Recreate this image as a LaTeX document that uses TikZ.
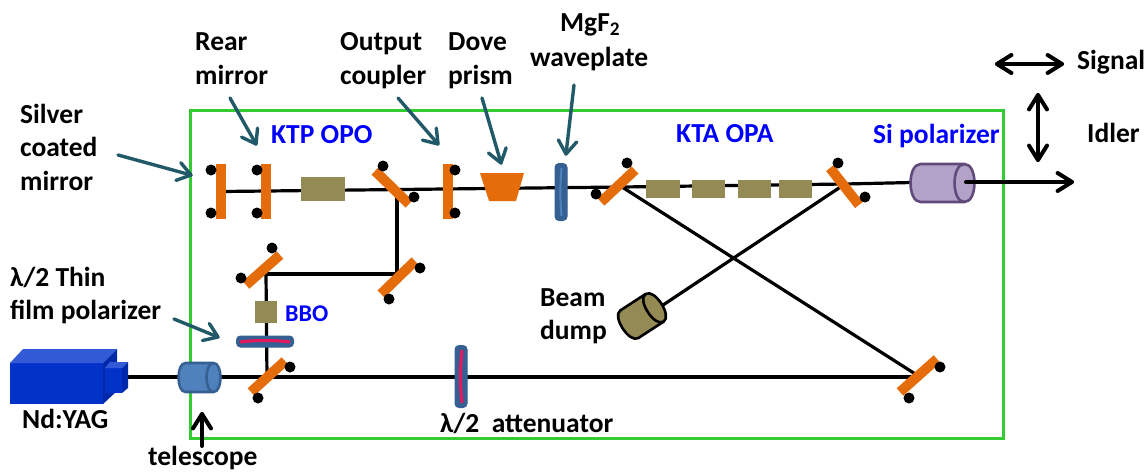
\documentclass[tikz,border=0pt]{standalone}
\usepackage{fontspec}
\setmainfont{Carlito}
\usetikzlibrary{calc}
\definecolor{frame}{HTML}{33CC33}
\definecolor{mirrorc}{HTML}{E46C0A}
\definecolor{khaki}{HTML}{948A54}
\definecolor{teal}{HTML}{215968}
\definecolor{lensf}{HTML}{4F81BD}
\definecolor{lensd}{HTML}{376092}
\definecolor{purf}{HTML}{B3A2C7}
\definecolor{purd}{HTML}{604A7B}
\definecolor{mag}{HTML}{E6175C}
\definecolor{lasf}{RGB}{3,50,200}
\definecolor{last}{RGB}{50,90,215}
\definecolor{lass}{RGB}{0,40,170}
\tikzset{
  x=1pt,y=-1pt,
  lbl/.style={font=\fontsize{27.5}{27.5}\selectfont\bfseries,anchor=base west,inner sep=0pt,text=black},
  blbl/.style={lbl,text=blue},
  beam/.style={draw=black,line width=3.2pt},
  mir/.style={draw=mirrorc,line width=10pt},
  post/.style={circle,fill=black,minimum size=11pt,inner sep=0pt},
  crystal/.style={fill=khaki,inner sep=0pt},
  callout/.style={draw=teal,line width=3.4pt,line cap=round,line join=round},
  bigarrow/.style={draw=black,line width=4pt,line cap=round,line join=round},
  plate/.style={draw=lensd,fill=lensd,line width=1pt,rounded corners=4pt,inner sep=0pt},
}
% open arrow head at #2 for a shaft coming from #1: style, barb length, half angle
\newcommand{\openhead}[5]{%
  \draw[#3] ($(#2)!#4pt!#5:(#1)$) -- (#2) -- ($(#2)!#4pt!-#5:(#1)$);}
% name, x, y, rotation, length, diameter, end half-width, fill, stroke
\newcommand{\opticyl}[9]{%
  \coordinate (#1) at (#2,#3);
  \begin{scope}[shift={(#2,#3)},rotate=#4,line width=2.6pt,line join=round]
    \pgfmathsetmacro{\hl}{#5/2}\pgfmathsetmacro{\hd}{#6/2}
    \pgfmathsetmacro{\xa}{\hl-#7}\pgfmathsetmacro{\xb}{\hl+0.33*#7}\pgfmathsetmacro{\xc}{\hl-2.33*#7}
    \draw[draw=#9,fill=#8] (-\xa,-\hd) -- (\xa,-\hd) .. controls (\xb,-\hd) and (\xb,\hd) .. (\xa,\hd)
      -- (-\xa,\hd) .. controls (-\xb,\hd) and (-\xb,-\hd) .. cycle;
    \draw[draw=#9] (\xa,-\hd) .. controls (\xc,-\hd) and (\xc,\hd) .. (\xa,\hd);
  \end{scope}}
\begin{document}
\begin{tikzpicture}
\useasboundingbox (0,0) rectangle (1148,471);
% frame
\node[draw=frame,line width=3pt,minimum width=813pt,minimum height=328pt,inner sep=0pt,anchor=north west] (box) at (189,109) {};
% beam coordinates
\coordinate (laserout) at (128,377);
\coordinate (mPump) at (267,377);
\coordinate (mBottom) at (920,377);
\coordinate (mUpL) at (263,274);
\coordinate (mUpC) at (266,274);
\coordinate (mUpR) at (397,274);
\coordinate (mFold) at (397,190);
\coordinate (rear) at (223,191.5);
\coordinate (mIn) at (622,187);
\coordinate (mOut) at (845,184);
\coordinate (siIn) at (912,182.5);
\coordinate (siOut) at (966,182);
\coordinate (outEnd) at (1072,182);
\coordinate (dumpEnd) at (657,309);
% beams
\draw[beam] (laserout) -- (mBottom);
\draw[beam] (mPump) -- (mUpC);
\draw[beam] (mUpL) -- (mUpR);
\draw[beam] (mUpR) -- (mFold);
\draw[beam] (rear) -- (mIn);
\draw[beam] (mIn) -- (mOut);
\draw[beam] (mIn) -- (mBottom);
\draw[beam] (mOut) -- (dumpEnd);
\draw[beam] (mOut) -- (siIn);
% crystals
\node[crystal,minimum width=44pt,minimum height=24pt] (ktp) at (323,189) {};
\node[crystal,minimum width=22pt,minimum height=22pt] (bbo) at (266,312) {};
\node[crystal,minimum width=34pt,minimum height=18pt] (k1) at (663,189) {};
\node[crystal,minimum width=33pt,minimum height=18pt] (k2) at (708.5,189) {};
\node[crystal,minimum width=33pt,minimum height=18pt] (k3) at (754.5,189) {};
\node[crystal,minimum width=33pt,minimum height=18pt] (k4) at (795.5,189) {};
% laser
\fill[lasf] (10,363) rectangle (103,404);
\fill[last] (10,363) -- (23,349) -- (117,349) -- (103,363) -- cycle;
\fill[lass] (103,363) -- (117,349) -- (117,391) -- (103,404) -- cycle;
\fill[lasf] (105,368) rectangle (122,393);
\fill[last] (105,368) -- (110,362) -- (128,362) -- (122,368) -- cycle;
\fill[lass] (122,368) -- (128,362) -- (128,388) -- (122,393) -- cycle;
% telescope
\opticyl{tele}{199.5}{377.5}{0}{42}{29}{7}{lensf}{lensd}
% mirrors
\draw[mir] (220.5,164) -- (220.5,219);
\draw[mir] (265.5,164) -- (265.5,219);
\draw[mir] (448,164) -- (448,219);
\draw[mir] (375,171) -- (409,204);
\draw[mir] (601,202) -- (635,170);
\draw[mir] (830,168) -- (859,205);
\draw[mir] (246,285) -- (280,255);
\draw[mir] (381,294) -- (415,261);
\draw[mir] (251,392) -- (285,361);
\draw[mir] (900,392) -- (937,359);
% posts
\foreach \n/\a/\b in {pa/211/170,pb/211/213,pc/257/170,pd/257/213,pe/455/170,pf/455/213,pg/383/166,ph/414/197,pi/241/278,pj/272/248,pk/389/299,pl/420/268,pm/258/398,pn/290/367,po/596/194,pp/627/163,pq/838/163,pr/865/197,ps/909/398,pt/940/367}
  \node[post] (\n) at (\a,\b) {};
% prism
\fill[mirrorc] (480,173) -- (524,173) -- (516,201) -- (489,201) -- cycle;
% MgF2 plate
\node[plate,minimum width=12pt,minimum height=57pt] (mgf) at (561,192) {};
\draw[lensf,line width=2pt] (561.5,168) .. controls (560,185) and (560,200) .. (561.5,216);
% lambda/2 plate vertical
\node[plate,minimum width=12pt,minimum height=62pt] (att) at (461,376.5) {};
\draw[mag,line width=3pt] (462,350) .. controls (460,368) and (460,386) .. (462,403);
% lambda/2 plate horizontal
\node[plate,minimum width=57pt,minimum height=11pt] (tfp) at (265,341.5) {};
\draw[mag,line width=3pt] (240,342) .. controls (255,340) and (275,340) .. (290,342);
% beam dump
\opticyl{dump}{642}{316}{33}{46}{33}{8}{khaki}{black}
% polarizer
\opticyl{si}{942.5}{183}{0}{64}{38}{10}{purf}{purd}
\draw[bigarrow] (siOut) -- (outEnd);
\openhead{siOut}{outEnd}{bigarrow}{17}{32}
% free arrows
\coordinate (sA) at (997,64); \coordinate (sB) at (1062,64);
\coordinate (iA) at (1038,95); \coordinate (iB) at (1038,160);
\coordinate (tA) at (202,446); \coordinate (tB) at (202,414);
\draw[bigarrow] (sA) -- (sB);
\openhead{sA}{sB}{bigarrow}{17}{32}
\openhead{sB}{sA}{bigarrow}{17}{32}
\draw[bigarrow] (iA) -- (iB);
\openhead{iA}{iB}{bigarrow}{17}{32}
\openhead{iB}{iA}{bigarrow}{17}{32}
\draw[bigarrow] (tA) -- (tB);
\openhead{tA}{tB}{bigarrow}{17}{32}
% callouts
\coordinate (c1a) at (118,155); \coordinate (c1b) at (191,175);
\coordinate (c2a) at (230,98); \coordinate (c2b) at (256,144);
\coordinate (c3a) at (398,98); \coordinate (c3b) at (438,144);
\coordinate (c4a) at (482,98); \coordinate (c4b) at (501,163);
\coordinate (c5a) at (574,85); \coordinate (c5b) at (566,154);
\coordinate (c6a) at (174,319); \coordinate (c6b) at (218,337);
\foreach \p in {1,...,6}{
  \draw[callout] (c\p a) -- (c\p b);
  \openhead{c\p a}{c\p b}{callout}{16}{35}
}
% labels
\node[lbl] (t1) at (195,50) {Rear};
\node[lbl] (t2) at (195,84) {mirror};
\node[lbl] (t3) at (340,50) {Output};
\node[lbl] (t4) at (340,84) {coupler};
\node[lbl] (t5) at (448,50) {Dove};
\node[lbl] (t6) at (448,84) {prism};
\node[lbl] (t7) at (560,31) {MgF\textsubscript{2}};
\node[lbl] (t8) at (530,66) {waveplate};
\node[lbl] (t9) at (20,123) {Silver};
\node[lbl] (t10) at (20,156) {coated};
\node[lbl] (t11) at (20,190) {mirror};
\node[blbl] (t12) at (271,143) {KTP OPO};
\node[blbl] (t13) at (676,142) {KTA OPA};
\node[blbl] (t14) at (873,143) {Si polarizer};
\node[lbl] (t15) at (1077,69) {Signal};
\node[lbl] (t16) at (1087,142) {Idler};
\node[lbl] (t17) at (540,306) {Beam};
\node[lbl] (t18) at (540,339) {dump};
\node[lbl] (t19) at (10,286) {λ/2 Thin};
\node[lbl] (t20) at (10,319) {film polarizer};
\node[lbl] (t21) at (22,428) {Nd:YAG};
\node[lbl] (t22) at (148,465) {telescope};
\node[blbl,font=\fontsize{24}{24}\selectfont\bfseries] (t23) at (285,321) {BBO};
\node[lbl] (t24) at (440,432) {λ/2 \ attenuator};
\end{tikzpicture}
\end{document}
